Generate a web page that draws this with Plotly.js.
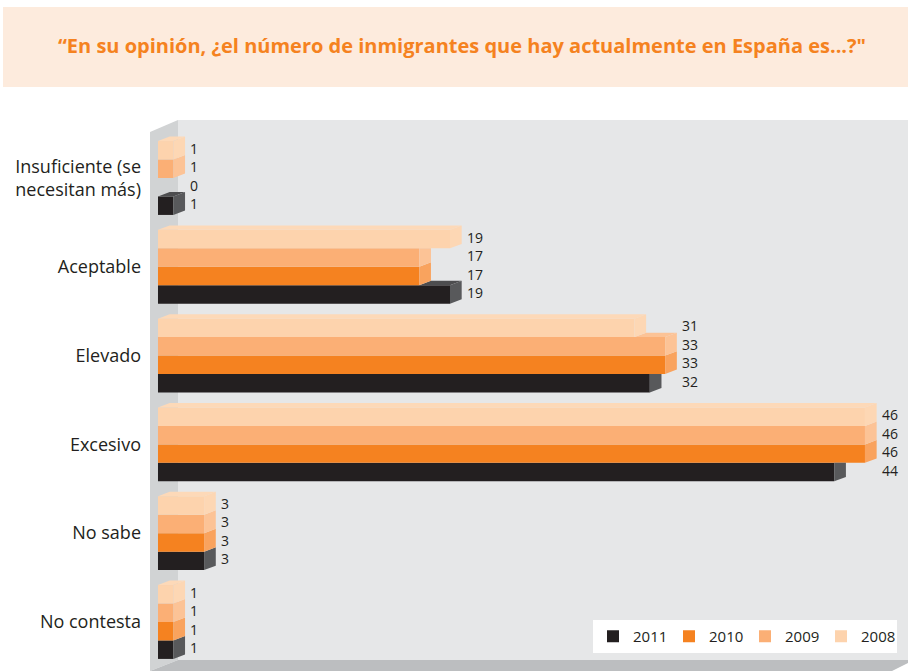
<!DOCTYPE html>
<html>
<head>
<meta charset="utf-8">
<script src="https://cdn.plot.ly/plotly-3.0.1.min.js"></script>
<style>html,body{margin:0;padding:0;background:#fff;}#chart{width:908px;height:671px;}</style>
</head>
<body>
<div id="chart"></div>
<script>
// ---- data ----
const categories = ['Insuficiente (se<br>necesitan más)', 'Aceptable', 'Elevado', 'Excesivo', 'No sabe', 'No contesta'];
const years = ['2011', '2010', '2009', '2008'];
const v2011 = [1, 19, 32, 44, 3, 1];
const v2010 = [0, 17, 33, 46, 3, 1];
const v2009 = [1, 17, 33, 46, 3, 1];
const v2008 = [1, 19, 31, 46, 3, 1];
const titleText = '<b>“En su opinión, ¿el número de inmigrantes que hay actualmente en España es...?"</b>';

// ---- styles ----
const series = [
  {name: years[0], vals: v2011, slot: 3, front: '#231f20', side: '#58595b', top: '#4d4d4f'},
  {name: years[1], vals: v2010, slot: 2, front: '#f58220', side: '#f9a35e', top: '#f9a35e'},
  {name: years[2], vals: v2009, slot: 1, front: '#fbaf75', side: '#fcc396', top: '#fcc396'},
  {name: years[3], vals: v2008, slot: 0, front: '#fdd3ad', side: '#fdd7b4', top: '#fdd9b8'}
];
const bySlot = {};
series.forEach(s => bySlot[s.slot] = s);

const W = 0.208;      // bar thickness (category units)
const DX = 0.76;      // depth in value units
const DY = 0.05;      // depth in category units

const traces = [];
series.forEach(s => {
  traces.push({
    type: 'bar', orientation: 'h', name: s.name,
    x: s.vals,
    y: categories.map((c, i) => i + (s.slot - 1.5) * W),
    width: W,
    marker: {color: s.front, line: {width: 0}},
    hoverinfo: 'skip'
  });
});
series.forEach(s => {
  const tx = [], ty = [], sx = [], sy = [];
  categories.forEach((c, i) => {
    const v = s.vals[i];
    if (v <= 0) return;
    const yc = i + (s.slot - 1.5) * W;
    const yT = yc - W / 2, yB = yc + W / 2;
    const up = s.slot > 0 ? bySlot[s.slot - 1].vals[i] : 0;
    if (up < v) {
      tx.push(up, up + DX, v + DX, v, up, null);
      ty.push(yT, yT - DY, yT - DY, yT, yT, null);
    }
    if (up > v) {
      sx.push(v, v + DX, v + DX, v, v, null);
      sy.push(yT, yT, yB - DY, yB, yT, null);
    } else {
      sx.push(v, v + DX, v + DX, v, v, null);
      sy.push(yT, yT - DY, yB - DY, yB, yT, null);
    }
  });
  traces.push({type: 'scatter', mode: 'lines', x: tx, y: ty, fill: 'toself', fillcolor: s.top,
    line: {width: 0, color: s.top}, showlegend: false, hoverinfo: 'skip'});
  traces.push({type: 'scatter', mode: 'lines', x: sx, y: sy, fill: 'toself', fillcolor: s.side,
    line: {width: 0, color: s.side}, showlegend: false, hoverinfo: 'skip'});
});

const annotations = [];
categories.forEach((c, i) => {
  const gmax = Math.max(...series.map(s => s.vals[i]));
  series.forEach(s => {
    annotations.push({
      x: gmax, y: i + (s.slot - 1.5) * W, xref: 'x', yref: 'y',
      text: String(s.vals[i]), showarrow: false, xanchor: 'left', yanchor: 'middle',
      xshift: 16, yshift: 2, borderpad: 0,
      font: {family: 'Open Sans, sans-serif', size: 14, color: '#231f20'}
    });
  });
});

const L = 150, T = 120, PW = 758, PH = 551;
const px = x => ((x - L) / PW).toFixed(5);
const py = y => ((T + PH - y) / PH).toFixed(5);
const path = pts => 'M' + pts.map(p => px(p[0]) + ',' + py(p[1])).join(' L') + ' Z';
const shapes = [
  {type: 'path', xref: 'paper', yref: 'paper', layer: 'below', line: {width: 0},
   fillcolor: '#fdebdd', path: path([[3, 7], [908, 7], [908, 87], [3, 87]])},
  {type: 'path', xref: 'paper', yref: 'paper', layer: 'below', line: {width: 0},
   fillcolor: '#e6e7e8', path: path([[178, 120], [908, 120], [908, 660], [178, 660]])},
  {type: 'path', xref: 'paper', yref: 'paper', layer: 'below', line: {width: 0},
   fillcolor: '#d1d3d4', path: path([[150, 132], [178, 120], [178, 660], [150, 671]])},
  {type: 'path', xref: 'paper', yref: 'paper', layer: 'below', line: {width: 0},
   fillcolor: '#bcbec0', path: path([[178, 660], [908, 660], [908, 663], [892, 671], [150, 671]])}
];

const layout = {
  width: 908, height: 671,
  margin: {l: L, r: 0, t: T, b: 0, pad: 0},
  paper_bgcolor: '#ffffff', plot_bgcolor: 'rgba(0,0,0,0)',
  barmode: 'overlay',
  title: {text: titleText, x: 462 / 908, xanchor: 'center', xref: 'container',
          y: (671 - 46) / 671, yanchor: 'middle', yref: 'container',
          font: {family: 'Open Sans, sans-serif', size: 20, color: '#f58220'}},
  xaxis: {range: [-0.52, 48.8], showgrid: false, zeroline: false, showticklabels: false, ticks: '', fixedrange: true},
  yaxis: {range: [5.552, -0.653], tickvals: categories.map((c, i) => i), ticktext: categories,
          showgrid: false, zeroline: false, ticks: '', ticklabelstandoff: 8,
          tickfont: {family: 'Open Sans, sans-serif', size: 18, color: '#231f20'}, fixedrange: true},
  legend: {orientation: 'h', x: (897 - L) / PW, xanchor: 'right', y: (671 - 653) / PH, yanchor: 'bottom',
           bgcolor: '#ffffff', font: {family: 'Open Sans, sans-serif', size: 15, color: '#231f20'},
           traceorder: 'normal', entrywidth: 31, entrywidthmode: 'pixels'},
  showlegend: true,
  shapes: shapes,
  annotations: annotations
};

Plotly.newPlot('chart', traces, layout, {displayModeBar: false, staticPlot: true});
</script>
</body>
</html>
